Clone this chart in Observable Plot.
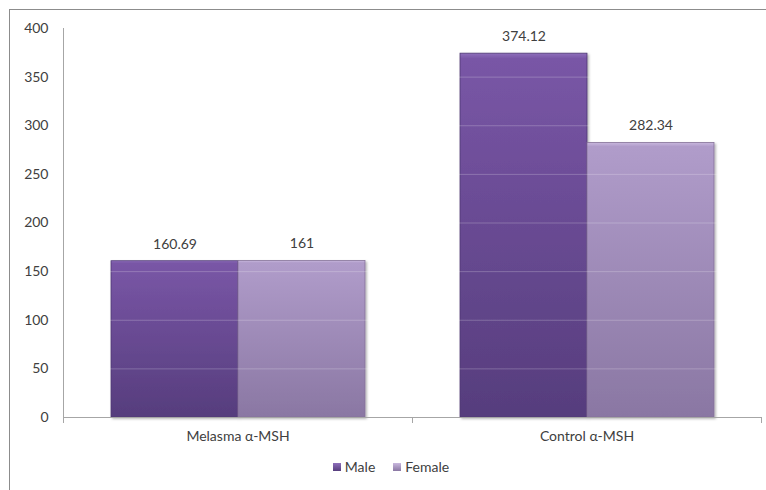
<!DOCTYPE html>
<html>
<head>
<meta charset="utf-8">
<script src="https://cdn.jsdelivr.net/npm/d3@7"></script>
<script src="https://cdn.jsdelivr.net/npm/@observablehq/plot@0.6"></script>
<style>
  html, body { margin: 0; padding: 0; background: #fff; overflow: hidden; }
  #wrap { position: relative; width: 766px; height: 490px; font-family: Lato, "Open Sans", sans-serif; }
  #border { position: absolute; left: 9px; top: 9px; width: 800px; height: 520px; border: 1.5px solid #8c8c8c; box-sizing: border-box; }
  #legend { position: absolute; left: 8px; width: 766px; top: 458px; text-align: center; font-size: 14px; color: #404040; }
  #legend span.item { display: inline-block; margin: 0 9px; }
  #legend span.sw { display: inline-block; width: 8px; height: 8px; margin-right: 4px; vertical-align: 1px; }
</style>
</head>
<body>
<div id="wrap"><div id="border"></div><div id="legend"></div></div>
<script>
const categories = ["Melasma α-MSH", "Control α-MSH"];
const series = ["Male", "Female"];
const maleValues = [160.69, 374.12];
const femaleValues = [161, 282.34];
const valueLabels = [["160.69", "161"], ["374.12", "282.34"]];
const yTicks = [0, 50, 100, 150, 200, 250, 300, 350, 400];

const data = [];
categories.forEach((c, i) => {
  data.push({category: c, sex: "Male", value: maleValues[i], label: valueLabels[i][0]});
  data.push({category: c, sex: "Female", value: femaleValues[i], label: valueLabels[i][1]});
});

const textColor = "#404040";
const axisColor = "#a6a6a6";

const chart = Plot.plot({
  width: 766,
  height: 490,
  marginLeft: 62,
  marginRight: 5,
  marginTop: 28,
  marginBottom: 73,
  style: {fontFamily: "Lato, 'Open Sans', sans-serif", fontSize: "14px", color: textColor, background: "transparent", overflow: "visible"},
  fx: {domain: categories, padding: 0, label: null},
  x: {domain: series, paddingInner: 0, paddingOuter: 0.37, axis: null},
  y: {domain: [0, 400], label: null},
  marks: [
    () => {
      const ns = "http://www.w3.org/2000/svg";
      const defs = document.createElementNS(ns, "defs");
      defs.innerHTML = `
        <linearGradient id="gMale" x1="0" y1="0" x2="0" y2="1">
          <stop offset="0" stop-color="#8e6fbb"/>
          <stop offset="0.015" stop-color="#7956a6"/>
          <stop offset="1" stop-color="#563d7d"/>
        </linearGradient>
        <linearGradient id="gFemale" x1="0" y1="0" x2="0" y2="1">
          <stop offset="0" stop-color="#c9b8de"/>
          <stop offset="0.015" stop-color="#b09cca"/>
          <stop offset="1" stop-color="#8a77a3"/>
        </linearGradient>
        <filter id="shadow" x="-5%" y="-5%" width="115%" height="115%">
          <feDropShadow dx="1.5" dy="1.5" stdDeviation="1" flood-color="#000" flood-opacity="0.3"/>
        </filter>`;
      return defs;
    },
    Plot.barY(data, {
      fx: "category", x: "sex", y: "value",
      fill: d => d.sex === "Male" ? "url(#gMale)" : "url(#gFemale)",
      stroke: d => d.sex === "Male" ? "#4e3873" : "#857298",
      strokeWidth: 0.8,
      render: (index, scales, values, dims, ctx, next) => {
        const g = next(index, scales, values, dims, ctx);
        g.setAttribute("filter", "url(#shadow)");
        return g;
      }
    }),
    Plot.ruleY(yTicks.slice(1), {stroke: "#ffffff", strokeOpacity: 0.22, strokeWidth: 1}),
    Plot.text(data, {
      fx: "category", x: "sex", y: "value", text: "label",
      dy: -17, fill: textColor, fontSize: 14
    }),
    Plot.ruleY([0], {stroke: axisColor, strokeWidth: 1.2}),
    Plot.frame({anchor: "left", stroke: axisColor, insetTop: 389, insetBottom: -5}),
    Plot.frame({anchor: "right", stroke: axisColor, insetTop: 389, insetBottom: -5}),
    Plot.frame({anchor: "left", stroke: axisColor, facetAnchor: "left", insetBottom: -5}),
    Plot.axisY({ticks: yTicks, tickSize: 0, tickPadding: 15, fill: textColor, fontSize: 14, label: null}),
    Plot.axisFx({anchor: "bottom", tickSize: 0, tickPadding: 14, fill: textColor, fontSize: 14, label: null})
  ]
});

document.getElementById("wrap").appendChild(chart);
chart.style.position = "absolute";
chart.style.left = "0px";
chart.style.top = "0px";

const legendItems = [["Male", "linear-gradient(#8e6fbb, #563d7d)"], ["Female", "linear-gradient(#c9b8de, #8a77a3)"]];
const legend = document.getElementById("legend");
legendItems.forEach(([name, bg]) => {
  const item = document.createElement("span");
  item.className = "item";
  const sw = document.createElement("span");
  sw.className = "sw";
  sw.style.background = bg;
  item.appendChild(sw);
  item.appendChild(document.createTextNode(name));
  legend.appendChild(item);
});
</script>
</body>
</html>
